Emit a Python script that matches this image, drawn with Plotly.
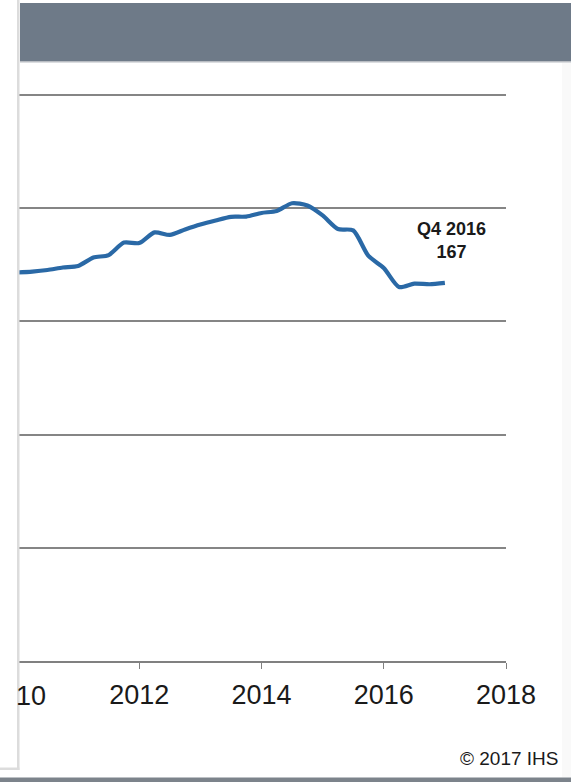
import plotly.graph_objects as go

# ---- data (quarterly index) ----
quarter_pos = [2010 + i / 4 for i in range(29)]  # quarter positions on the time axis
index_values = [171.6, 172.0, 172.7, 173.8, 174.5, 178.2, 179.3, 184.8, 184.6,
                189.3, 188.2, 190.6, 192.8, 194.6, 196.2, 196.3, 197.9, 198.8,
                202.2, 201.2, 196.8, 190.8, 190.2, 178.9, 173.6, 165.2, 166.7,
                166.4, 167.0]
x_ticks = [2010, 2012, 2014, 2016, 2018]
x_tick_labels = ["", "2012", "2014", "2016", "2018"]
y_ticks = [0, 50, 100, 150, 200, 250]
last_label = "Q4 2016"
last_value = 167

W, H = 571, 782
L, R, T, B = 17, 65, 92, 121
PW, PH = W - L - R, H - T - B
Y_TOP = 250 * PH / (H - 121 - 95)  # keep 250 at pixel 95


def px(x):
    return (x - L) / PW


def py(y):
    return 1 - (y - T) / PH


fig = go.Figure()
fig.add_trace(go.Scatter(
    x=quarter_pos, y=index_values, mode="lines",
    line=dict(color="#2a69a6", width=4.2, shape="spline", smoothing=0.7),
    hoverinfo="skip", showlegend=False,
))

shapes = [
    # header band
    dict(type="rect", xref="paper", yref="paper", x0=px(20), x1=px(W + 2),
         y0=py(61), y1=py(3), fillcolor="#6e7a88", line=dict(width=0), layer="above"),
    dict(type="rect", xref="paper", yref="paper", x0=px(20), x1=px(W + 2),
         y0=py(62.5), y1=py(61), fillcolor="#b8bcc2", line=dict(width=0), layer="above"),
    # left white margin and border line
    dict(type="rect", xref="paper", yref="paper", x0=px(-2), x1=px(17),
         y0=py(768), y1=py(-2), fillcolor="white", line=dict(width=0), layer="above"),
    dict(type="rect", xref="paper", yref="paper", x0=px(17), x1=px(19.5),
         y0=py(770), y1=py(-2), fillcolor="#dcdcdc", line=dict(width=0), layer="above"),
    dict(type="rect", xref="paper", yref="paper", x0=px(-2), x1=px(19.5),
         y0=py(770), y1=py(767.5), fillcolor="#dcdcdc", line=dict(width=0), layer="above"),
    # bottom bar
    dict(type="rect", xref="paper", yref="paper", x0=px(-2), x1=px(W + 2),
         y0=py(H + 2), y1=py(777.5), fillcolor="#7c838b", line=dict(width=0), layer="above"),
    # faint right strip
    dict(type="rect", xref="paper", yref="paper", x0=px(562), x1=px(W + 2),
         y0=py(777.5), y1=py(62.5), fillcolor="#f9f9f9", line=dict(width=0), layer="below"),
]

annotations = [
    dict(xref="paper", yref="paper", x=px(451), y=py(240), xanchor="center", yanchor="middle",
         text=f"<b>{last_label}<br>{last_value}</b>", showarrow=False,
         font=dict(family="Arial, Liberation Sans", size=18, color="#1a1a1a")),
    dict(xref="paper", yref="paper", x=px(48), y=py(696), xanchor="right", yanchor="middle",
         text="10", showarrow=False,
         font=dict(family="Arial, Liberation Sans", size=27, color="#1a1a1a")),
    dict(xref="paper", yref="paper", x=px(561), y=py(758), xanchor="right", yanchor="middle",
         text="© 2017 IHS", showarrow=False,
         font=dict(family="Arial, Liberation Sans", size=19, color="#1a1a1a")),
]

fig.update_layout(
    width=W, height=H, margin=dict(l=L, r=R, t=T, b=B, pad=0),
    paper_bgcolor="white", plot_bgcolor="white",
    shapes=shapes, annotations=annotations, showlegend=False,
    xaxis=dict(range=[2010, 2018], tickvals=x_ticks, ticktext=x_tick_labels,
               showgrid=False, zeroline=False, showline=True, linecolor="#808080",
               linewidth=1.5, ticks="outside", ticklen=6, tickwidth=1.2, tickcolor="#808080",
               ticklabelstandoff=3,
               tickfont=dict(family="Arial, Liberation Sans", size=27, color="#1a1a1a"),
               fixedrange=True),
    yaxis=dict(range=[0, Y_TOP], tickvals=y_ticks, showticklabels=False,
               showgrid=True, gridcolor="#858585", gridwidth=1.5, zeroline=False,
               showline=False, ticks="", fixedrange=True),
)

fig.write_html("out.html")
